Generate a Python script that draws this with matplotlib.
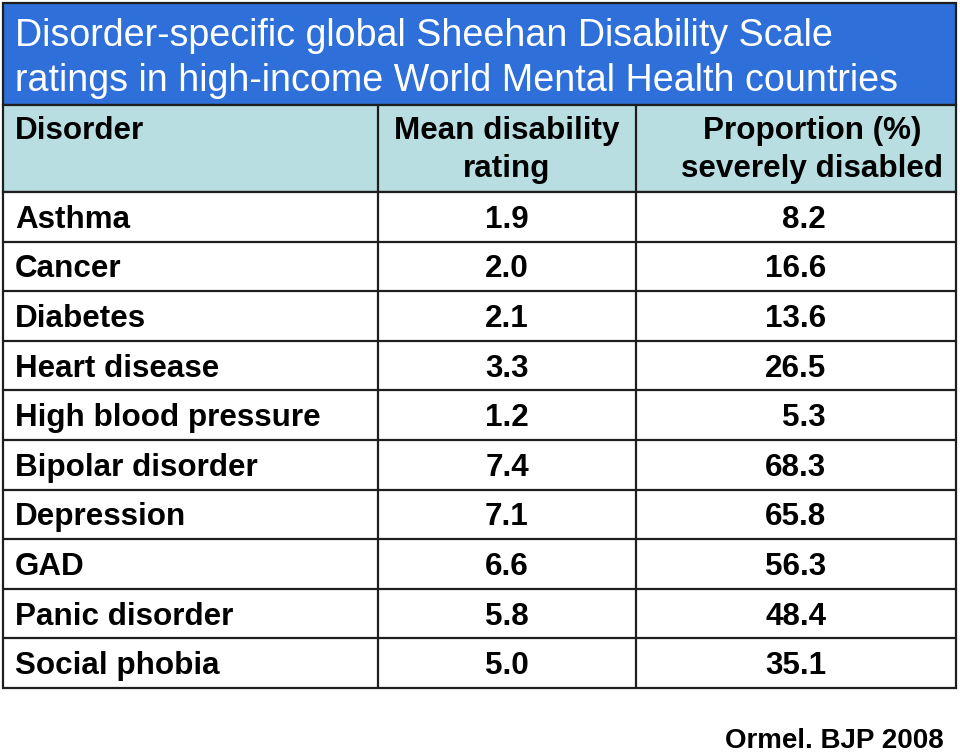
import matplotlib
matplotlib.use("Agg")
import matplotlib.pyplot as plt
from matplotlib.patches import Rectangle

title_lines = ["Disorder-specific global Sheehan Disability Scale",
               "ratings in high-income World Mental Health countries"]
col_headers = [["Disorder"], ["Mean disability", "rating"], ["Proportion (%)", "severely disabled"]]
disorders = ["Asthma", "Cancer", "Diabetes", "Heart disease", "High blood pressure",
             "Bipolar disorder", "Depression", "GAD", "Panic disorder", "Social phobia"]
mean_rating = ["1.9", "2.0", "2.1", "3.3", "1.2", "7.4", "7.1", "6.6", "5.8", "5.0"]
prop_severe = ["8.2", "16.6", "13.6", "26.5", "5.3", "68.3", "65.8", "56.3", "48.4", "35.1"]
source = "Ormel. BJP 2008"

W, H = 960, 755
fig = plt.figure(figsize=(9.6, 7.55), dpi=100)
ax = fig.add_axes([0, 0, 1, 1])
ax.set_xlim(0, W)
ax.set_ylim(H, 0)
ax.axis("off")

FONT = "Liberation Sans"
BLUE = "#2E6FDA"
TEAL = "#B8DEE2"
LINE = "#1E1E1E"
LW = 1.6

x0, x1 = 3, 956
cols = [3, 378, 636, 956]
y_title_top, y_head_top, y_body_top, y_body_bot = 3, 105, 192, 688

# title bar
ax.add_patch(Rectangle((x0, y_title_top), x1 - x0, y_head_top - y_title_top,
                       facecolor=BLUE, edgecolor=LINE, lw=LW))
# header row
ax.add_patch(Rectangle((x0, y_head_top), x1 - x0, y_body_top - y_head_top,
                       facecolor=TEAL, edgecolor=LINE, lw=LW))
# body
ax.add_patch(Rectangle((x0, y_body_top), x1 - x0, y_body_bot - y_body_top,
                       facecolor="white", edgecolor=LINE, lw=LW))

n = len(disorders)
rh = (y_body_bot - y_body_top) / n
for i in range(1, n):
    y = y_body_top + i * rh
    ax.plot([x0, x1], [y, y], color=LINE, lw=LW, solid_capstyle="butt")
for cx in cols[1:-1]:
    ax.plot([cx, cx], [y_head_top, y_body_bot], color=LINE, lw=LW, solid_capstyle="butt")

# title text
for k, t in enumerate(title_lines):
    ax.text(15, 46 + k * 45, t, color="white", fontsize=27.1, family=FONT,
            ha="left", va="baseline")

# header text
hb = [139, 177]
ax.text(15, hb[0], col_headers[0][0], fontsize=22.6, fontweight="bold", family=FONT,
        ha="left", va="baseline")
for k, t in enumerate(col_headers[1]):
    ax.text(507, hb[k], t, fontsize=22.6, fontweight="bold", family=FONT,
            ha="center", va="baseline")
for k, t in enumerate(col_headers[2]):
    ax.text(812, hb[k], t, fontsize=22.6, fontweight="bold", family=FONT,
            ha="center", va="baseline")

# body text
for i in range(n):
    yc = y_body_top + (i + 0.5) * rh + 11
    ax.text(15, yc, disorders[i], fontsize=22.6, fontweight="bold", family=FONT,
            ha="left", va="baseline")
    ax.text(507, yc, mean_rating[i], fontsize=22.6, fontweight="bold", family=FONT,
            ha="center", va="baseline")
    ax.text(826, yc, prop_severe[i], fontsize=22.6, fontweight="bold", family=FONT,
            ha="right", va="baseline")

ax.text(944, 748, source, fontsize=20, fontweight="bold", family=FONT,
        ha="right", va="baseline")

fig.savefig("out.png", dpi=100, facecolor="white")
